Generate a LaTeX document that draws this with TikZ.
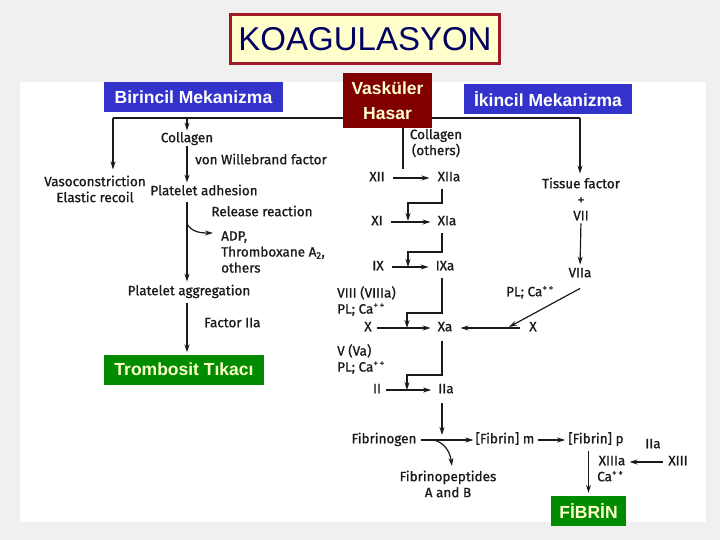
\documentclass[tikz,border=0pt]{standalone}
\usepackage{fontspec}
\setmainfont{Liberation Sans}
\newfontfamily\scanfont[FakeBold=0.9]{Fira Sans}
\usetikzlibrary{shapes, arrows, arrows.meta, positioning}
\definecolor{pagegray}{HTML}{F0F0F0}
\definecolor{boxblue}{HTML}{3333CC}
\definecolor{boxgreen}{HTML}{008C00}
\definecolor{boxred}{HTML}{800000}
\definecolor{paleyellow}{HTML}{FFFFCC}
\definecolor{titlered}{HTML}{A01A2A}
\definecolor{titlenavy}{HTML}{000060}
\definecolor{ink}{HTML}{1A1A1A}

\begin{document}
\begin{tikzpicture}[x=1pt, y=-1pt, >={Stealth[length=8pt, width=5pt]},
    txt/.style={font=\scanfont\fontsize{13.5}{16}\selectfont, text=ink, inner sep=0pt, text height=9.5pt, text depth=3pt},
    txtm/.style={font=\scanfont\fontsize{13.5}{16}\selectfont, text=ink, inner sep=0pt},
    tag/.style={font=\bfseries\fontsize{17.5}{20}\selectfont, inner sep=0pt, minimum height=30pt},
    wire/.style={draw=ink, line width=1.2pt},
    flow/.style={->, draw=ink, line width=1.2pt},
    reac/.style={flow, shorten <=5pt, shorten >=7pt}]
    \useasboundingbox (0,0) rectangle (720,540);
    \fill[pagegray] (0,0) rectangle (720,540);
    \fill[white] (20,82) rectangle (706,522);

    % primary side
    \node[txt] (collagen) at (187,139) {Collagen};
    \node[txt, anchor=west] (vwf) at (195,161) {von Willebrand factor};
    \node[txtm, align=center] (vaso) at (95,189) {Vasoconstriction\\Elastic recoil};
    \node[txt] (adhesion) at (204,192) {Platelet adhesion};
    \node[txt] (release) at (262,213) {Release reaction};
    \node[txtm, align=left, anchor=west] (adp) at (221,252) {ADP,\\Thromboxane A\textsubscript{2},\\others};
    \node[txt] (aggregation) at (189,292) {Platelet aggregation};
    \node[txt, anchor=west] (factor) at (204,324) {Factor IIa};
    \node[tag, fill=boxgreen, text=paleyellow, minimum width=160pt] (tikac) at (184,369.5) {Trombosit Tıkacı};

    % secondary side
    \node[txtm, align=center] (coll2) at (436,143) {Collagen\\(others)};
    \node[txt] (xii) at (377,178) {XII};
    \node[txt] (xiia) at (449,178) {XIIa};
    \node[txt] (xi) at (377,222) {XI};
    \node[txt] (xia) at (447,222) {XIa};
    \node[txt] (ix) at (378,267) {IX};
    \node[txt] (ixa) at (445,267) {IXa};
    \node[txtm, align=left, anchor=west] (viii) at (337,301) {VIII (VIIIa)\\PL; Ca\textsuperscript{+\,+}};
    \node[txt] (x) at (368,328) {X};
    \node[txt] (xa) at (445,328) {Xa};
    \node[txt] (xr) at (533,328) {X};
    \node[txtm, align=center] (tf) at (581,199) {Tissue factor\\+\\VII};
    \node[txt] (viia) at (580,274) {VIIa};
    \node[txt] (plr) at (530,293) {PL; Ca\textsuperscript{+\,+}};
    \node[txtm, align=left, anchor=west] (v) at (337,359) {V (Va)\\PL; Ca\textsuperscript{+\,+}};
    \node[txt] (ii) at (377,390) {II};
    \node[txt] (iia) at (446,390) {IIa};
    \node[txt] (fbg) at (384,440) {Fibrinogen};
    \node[txt] (fm) at (505,440) {[Fibrin] m};
    \node[txt] (fp) at (596,440) {[Fibrin] p};
    \node[txt] (iia2) at (653,445) {IIa};
    \node[txtm, align=center] (fpep) at (448,484) {Fibrinopeptides\\A and B};
    \node[txt] (xiiia) at (612,462) {XIIIa};
    \node[txt, anchor=west] (ca) at (597,478) {Ca\textsuperscript{+\,+}};
    \node[txt] (xiii) at (678,462) {XIII};
    \node[tag, fill=boxgreen, text=paleyellow, minimum width=75pt] (fibrin) at (588.5,511) {FİBRİN};

    % connectors
    \coordinate (tl) at (113,118);
    \coordinate (tr) at (580,118);
    \coordinate (hv) at (403,118);
    \draw[wire] (tl) -- (tr);
    \draw[flow, shorten >=6pt] (tl) -- (tl |- vaso.north);
    \draw[flow, shorten >=2pt] (collagen.north |- tl) -- (collagen.north);
    \draw[flow, shorten <=1pt, shorten >=3pt] (collagen.south) -- (collagen.south |- adhesion.north);
    \draw[flow, shorten <=4pt, shorten >=4pt] (adhesion.south -| collagen) -- (collagen |- aggregation.north);
    \coordinate (rel) at (187,224);
    \coordinate (relend) at (213,233);
    \draw[flow] (rel) .. controls (192,232) and (200,233) .. (relend);
    \draw[flow, shorten <=5pt, shorten >=2pt] (aggregation.south -| collagen) -- (collagen |- tikac.north);

    \draw[wire, shorten >=3pt] (hv) -- (hv |- xii.north);
    \draw[flow, shorten >=4pt] (tr) -- (tr |- tf.north);
    \draw[flow, shorten <=3pt, shorten >=3pt] (tf.south) -- (viia.north);
    \draw[reac, shorten <=8pt, shorten >=8pt] (xii) -- (xiia);
    \draw[reac, shorten <=8pt] (xi) -- (xia);
    \draw[reac, shorten <=8pt] (ix) -- (ixa);
    \draw[reac] (x) -- (xa);
    \draw[reac, shorten <=9pt, shorten >=8pt] (xr) -- (xa);
    \draw[reac] (ii) -- (iia);
    \draw[reac, shorten <=4pt, shorten >=2pt] (fbg) -- (fm);
    \draw[reac, shorten <=3pt, shorten >=3pt] (fm) -- (fp);
    \draw[reac, shorten >=4pt] (xiii) -- (xiiia);

    \coordinate (k1) at (442,203);  \coordinate (j1) at (408,221);
    \coordinate (k2) at (442,252);  \coordinate (j2) at (408,267);
    \coordinate (k3) at (442,313);  \coordinate (j3) at (407,328);
    \coordinate (k4) at (442,375);  \coordinate (j4) at (407,390);
    \draw[flow, shorten <=5pt] (xiia.south -| k1) -- (k1) -| (j1);
    \draw[flow, shorten <=5pt] (xia.south -| k2) -- (k2) -| (j2);
    \draw[flow, shorten <=5pt] (ixa.south -| k3) -- (k3) -| (j3);
    \draw[flow, shorten <=7pt] (xa.south -| k4) -- (k4) -| (j4);
    \coordinate (j5) at (442,435);
    \draw[flow, shorten <=7pt] (iia.south -| j5) -- (j5);
    \coordinate (j6) at (509,327);
    \draw[flow] ([yshift=-8pt]viia.south) -- (j6);
    \coordinate (fc) at (434,440);
    \coordinate (fcend) at (452,466);
    \draw[flow] (fc) .. controls (445,443) and (450,452) .. (fcend);
    \draw[flow, shorten <=5pt, shorten >=3pt] (fp.south -| fibrin.north) -- (fibrin.north);

    % coloured labels
    \node[draw=titlered, line width=3pt, fill=paleyellow, text=titlenavy, font=\fontsize{33}{38}\selectfont,
        minimum width=269pt, minimum height=49pt, inner sep=0pt] (title) at (365,39) {KOAGULASYON};
    \node[tag, fill=boxblue, text=white, minimum width=179pt] (prim) at (193.5,97) {Birincil Mekanizma};
    \node[tag, fill=boxblue, text=white, minimum width=168pt] (sec) at (548,99) {İkincil Mekanizma};
    \node[tag, fill=boxred, text=paleyellow, align=center, minimum width=89pt, minimum height=55pt,
        font=\bfseries\fontsize{17.5}{25}\selectfont] (hasar) at (387.5,100.5) {Vasküler\\Hasar};
\end{tikzpicture}
\end{document}
